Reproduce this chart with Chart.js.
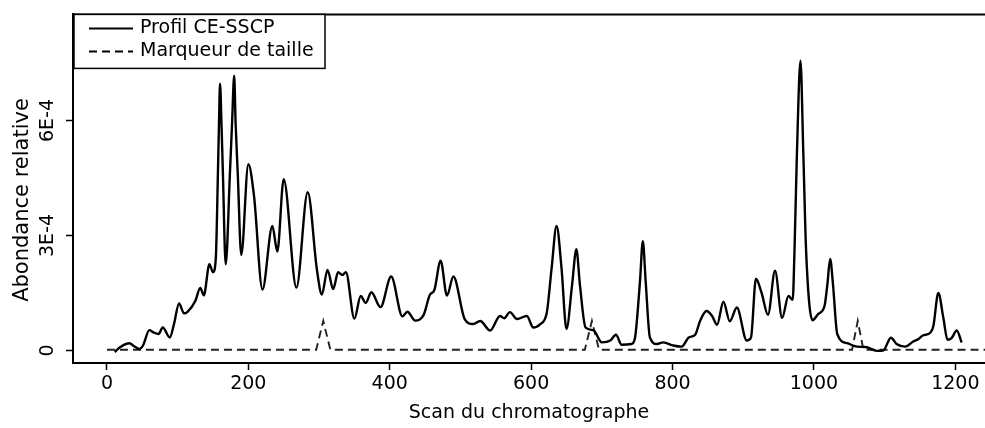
<!DOCTYPE html>
<html>
<head>
<meta charset="utf-8">
<script src="https://cdn.jsdelivr.net/npm/chart.js@4.4.1/dist/chart.umd.min.js"></script>
<style>
  html, body { margin: 0; padding: 0; background: #fff; overflow: hidden; }
  #chart { display: block; }
</style>
</head>
<body>
<canvas id="chart" width="985" height="428"></canvas>
<script>
// Valeurs (abondance en unites de 1E-4)
var profilScan = [11, 18, 32, 37, 46, 51, 60, 66, 73, 79, 89, 95, 102, 109, 114, 125, 132, 137, 145, 150,
  154, 157, 158.5, 160, 162, 164, 168, 174, 177, 180, 182, 185, 190, 200, 208, 220, 234, 241, 250, 268,
  284, 297, 304, 312, 320, 327, 333, 338, 350, 359, 366, 374, 387, 402, 418, 425, 436, 448, 457, 463,
  472, 481, 490, 506, 518, 528, 542, 556, 562, 570, 580, 594, 603, 613, 622, 629, 636, 643, 650, 658,
  664, 669, 677, 688, 700, 712, 720, 728, 742, 747, 754, 758, 762, 768, 778, 787, 801, 813, 823, 832,
  839, 848, 856, 863, 872, 881, 891, 905, 911, 918, 926, 935, 945, 955, 964, 970, 972.5, 976, 981, 985,
  989, 998, 1006, 1015, 1019, 1023, 1027, 1033, 1047, 1061, 1073, 1089, 1098, 1109, 1117, 1129, 1141, 1148, 1154, 1165,
  1169, 1176, 1183, 1189, 1195, 1202, 1209];
var profilAbondance = [-0.04, 0.08, 0.19, 0.13, 0.04, 0.13, 0.53, 0.47, 0.43, 0.60, 0.34, 0.70, 1.23, 0.97, 1.01, 1.29, 1.63, 1.44, 2.25, 2.04,
  2.41, 4.64, 5.93, 6.96, 5.93, 4.64, 2.25, 4.64, 5.93, 7.17, 5.93, 4.64, 2.49, 4.86, 4.04, 1.59, 3.25, 2.58, 4.47, 1.64,
  4.13, 2.11, 1.46, 2.10, 1.60, 2.04, 1.97, 2.04, 0.83, 1.42, 1.24, 1.52, 1.13, 1.93, 0.89, 1.01, 0.78, 0.93, 1.46, 1.57,
  2.34, 1.43, 1.93, 0.82, 0.69, 0.77, 0.52, 0.90, 0.84, 1.00, 0.82, 0.90, 0.60, 0.69, 0.97, 2.15, 3.25, 2.15, 0.56, 1.72,
  2.64, 1.72, 0.60, 0.53, 0.21, 0.26, 0.41, 0.15, 0.17, 0.34, 1.81, 2.85, 1.81, 0.34, 0.17, 0.21, 0.13, 0.10, 0.34, 0.41,
  0.77, 1.03, 0.90, 0.67, 1.27, 0.76, 1.12, 0.26, 0.34, 1.87, 1.50, 0.93, 2.08, 0.85, 1.42, 1.32, 2.58, 5.16, 7.56, 5.16,
  2.58, 0.79, 0.95, 1.16, 1.72, 2.39, 1.72, 0.43, 0.19, 0.10, 0.09, -0.01, 0.00, 0.33, 0.17, 0.10, 0.24, 0.30, 0.39, 0.47,
  0.64, 1.50, 0.86, 0.28, 0.33, 0.52, 0.21];

var marqueurScan = [0, 296, 306, 316, 676, 686, 696, 1054, 1062, 1070, 1242];
var marqueurAbondance = [0.02, 0.02, 0.77, 0.02, 0.02, 0.77, 0.02, 0.02, 0.77, 0.02, 0.02];

var xTicks = [0, 200, 400, 600, 800, 1000, 1200];
var yTicks = [0, 3, 6];
var yTickLabels = ["0", "3E-4", "6E-4"];
var legendLabels = ["Profil CE-SSCP", "Marqueur de taille"];
var yTitle = "Abondance relative";

var FONT = "DejaVu Sans";

function toPoints(xs, ys) {
  return xs.map(function (x, i) {
    return { x: x, y: ys[i] };
  });
}

// axes facon matplotlib : cadre haut, labels y tournes, legende encadree
var framePlugin = {
  id: "frame",
  afterDraw: function (chart) {
    var ctx = chart.ctx;
    var area = chart.chartArea;
    var yScale = chart.scales.y;

    ctx.save();
    ctx.strokeStyle = "#000";
    ctx.lineWidth = 2;
    ctx.beginPath();
    ctx.moveTo(area.left - 1, area.top);
    ctx.lineTo(chart.width, area.top);
    ctx.stroke();

    // labels de l'axe y, tournes de 90 degres
    ctx.fillStyle = "#000";
    ctx.font = "19px '" + FONT + "'";
    ctx.textAlign = "center";
    ctx.textBaseline = "middle";
    for (var i = 0; i < yTicks.length; i++) {
      var py = yScale.getPixelForValue(yTicks[i]);
      ctx.save();
      ctx.translate(area.left - 25, py);
      ctx.rotate(-Math.PI / 2);
      ctx.fillText(yTickLabels[i], 0, 0);
      ctx.restore();
    }

    // titre de l'axe y
    ctx.save();
    ctx.font = "21px '" + FONT + "'";
    ctx.translate(23, 200);
    ctx.rotate(-Math.PI / 2);
    ctx.fillText(yTitle, 0, 0);
    ctx.restore();

    // legende
    var bx = area.left + 1, by = area.top, bw = 251, bh = 54;
    ctx.fillStyle = "#fff";
    ctx.fillRect(bx, by, bw, bh);
    ctx.lineWidth = 1.5;
    ctx.strokeStyle = "#000";
    ctx.strokeRect(bx, by, bw, bh);

    ctx.lineWidth = 2;
    ctx.beginPath();
    ctx.moveTo(bx + 15, by + 14);
    ctx.lineTo(bx + 59, by + 14);
    ctx.stroke();
    ctx.setLineDash([8, 5]);
    ctx.beginPath();
    ctx.moveTo(bx + 15, by + 37);
    ctx.lineTo(bx + 59, by + 37);
    ctx.stroke();
    ctx.setLineDash([]);

    ctx.fillStyle = "#000";
    ctx.textAlign = "left";
    ctx.fillText(legendLabels[0], bx + 66, by + 14);
    ctx.fillText(legendLabels[1], bx + 66, by + 37);
    ctx.restore();
  }
};

var ctx = document.getElementById("chart");

var chart = new Chart(ctx, {
  type: "line",
  data: {
    datasets: [
      {
        label: legendLabels[0],
        data: toPoints(profilScan, profilAbondance),
        borderColor: "#000",
        borderWidth: 2.4,
        pointRadius: 0,
        cubicInterpolationMode: "monotone",
        fill: false
      },
      {
        label: legendLabels[1],
        data: toPoints(marqueurScan, marqueurAbondance),
        borderColor: "#222",
        borderWidth: 1.9,
        borderDash: [8, 5],
        pointRadius: 0,
        tension: 0,
        fill: false
      }
    ]
  },
  options: {
    responsive: false,
    animation: false,
    layout: { padding: { top: 10, right: 0, bottom: 0, left: 0 } },
    scales: {
      x: {
        type: "linear",
        min: -48,
        max: 1242,
        afterBuildTicks: function (scale) {
          scale.ticks = xTicks.map(function (v) { return { value: v }; });
        },
        afterFit: function (scale) { scale.height = 65; },
        ticks: {
          autoSkip: false,
          maxRotation: 0,
          includeBounds: false,
          color: "#000",
          padding: 3,
          font: { family: FONT, size: 19 },
          callback: function (value) { return String(value); }
        },
        grid: {
          drawOnChartArea: false,
          drawTicks: true,
          tickLength: 7,
          tickColor: "#000",
          tickWidth: 1.5
        },
        border: { display: true, color: "#000", width: 2 },
        title: {
          display: true,
          text: "Scan du chromatographe",
          color: "#000",
          font: { family: FONT, size: 19 },
          padding: { top: 0, bottom: 4 }
        }
      },
      y: {
        type: "linear",
        min: -0.327,
        max: 8.77,
        afterBuildTicks: function (scale) {
          scale.ticks = yTicks.map(function (v) { return { value: v }; });
        },
        afterFit: function (scale) { scale.width = 73; },
        ticks: {
          includeBounds: false,
          color: "rgba(0,0,0,0)",
          font: { family: FONT, size: 19 }
        },
        grid: {
          drawOnChartArea: false,
          drawTicks: true,
          tickLength: 7,
          tickColor: "#000",
          tickWidth: 1.5
        },
        border: { display: true, color: "#000", width: 2 }
      }
    },
    plugins: {
      legend: { display: false },
      tooltip: { enabled: false }
    }
  },
  plugins: [framePlugin]
});
</script>
</body>
</html>
